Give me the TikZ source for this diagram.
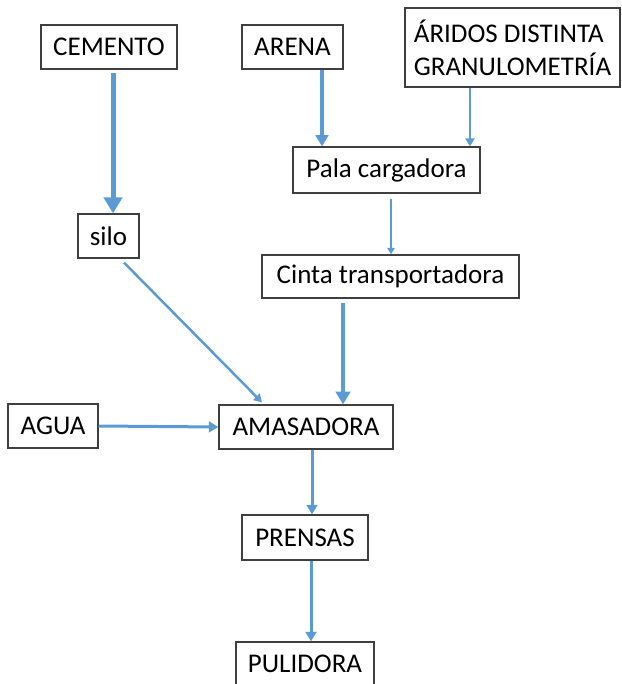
\documentclass[tikz,border=0pt]{standalone}
\usepackage{fontspec}
\setmainfont{Carlito}
\usetikzlibrary{arrows.meta}
\definecolor{flowblue}{HTML}{5B9BD5}
\definecolor{boxline}{HTML}{3F3F3F}
\begin{document}
\begin{tikzpicture}[x=1pt,y=-1pt,
  box/.style={draw=boxline,line width=1.2pt,inner sep=0pt,font=\fontsize{27}{33}\selectfont},
  flow/.style={draw=flowblue,line width=#1,-{Triangle[length=0pt 3.2,width=0pt 3.6]}}]
\useasboundingbox (0,0) rectangle (621,684);
%inputs
\node[box,minimum width=136pt,minimum height=44pt] (cemento) at (109,47) {CEMENTO};
\node[box,minimum width=101pt,minimum height=44pt] (arena) at (292.5,47) {ARENA};
\node[box,minimum width=215pt,minimum height=79pt,align=left] (aridos) at (512.5,47.5) {ÁRIDOS DISTINTA\\GRANULOMETRÍA};
\node[box,minimum width=90pt,minimum height=44pt] (agua) at (53,426) {AGUA};
%machines
\node[box,minimum width=187pt,minimum height=46pt] (pala) at (386.5,170) {Pala cargadora};
\node[box,minimum width=61pt,minimum height=44pt] (silo) at (108.5,236) {silo};
\node[box,minimum width=257pt,minimum height=43pt] (cinta) at (390.5,276.5) {Cinta transportadora};
\node[box,minimum width=174pt,minimum height=44pt] (amasadora) at (306,427) {AMASADORA};
\node[box,minimum width=126pt,minimum height=45pt] (prensas) at (305,537.5) {PRENSAS};
\node[box,minimum width=138pt,minimum height=44pt] (pulidora) at (305,664) {PULIDORA};
%flows
\draw[flow=5pt] ([xshift=4pt,yshift=-3pt]cemento.south) -- ([xshift=4pt]cemento.south |- silo.north);
\draw[flow=3.5pt] ([xshift=29.5pt]arena.south) -- ([xshift=29.5pt]arena.south |- pala.north);
\draw[flow=2.5pt] ([xshift=-42.5pt]aridos.south) -- ([xshift=-42.5pt]aridos.south |- pala.north);
\draw[flow=2pt] ([xshift=4.5pt,yshift=-5pt]pala.south) -- ([xshift=4.5pt]pala.south |- cinta.north);
\draw[flow=2.5pt] ([xshift=15.5pt,yshift=-4pt]silo.south) -- ([xshift=-44pt,yshift=2pt]amasadora.north);
\draw[flow=4pt] ([xshift=-47.5pt,yshift=-4pt]cinta.south) -- ([xshift=-47.5pt]cinta.south |- amasadora.north);
\draw[flow=3pt] (agua.east) -- (amasadora.west);
\draw[flow=3pt] ([xshift=6pt]amasadora.south) -- ([xshift=6pt]amasadora.south |- prensas.north);
\draw[flow=3pt] ([xshift=6pt]prensas.south) -- ([xshift=6pt]prensas.south |- pulidora.north);
\end{tikzpicture}
\end{document}
